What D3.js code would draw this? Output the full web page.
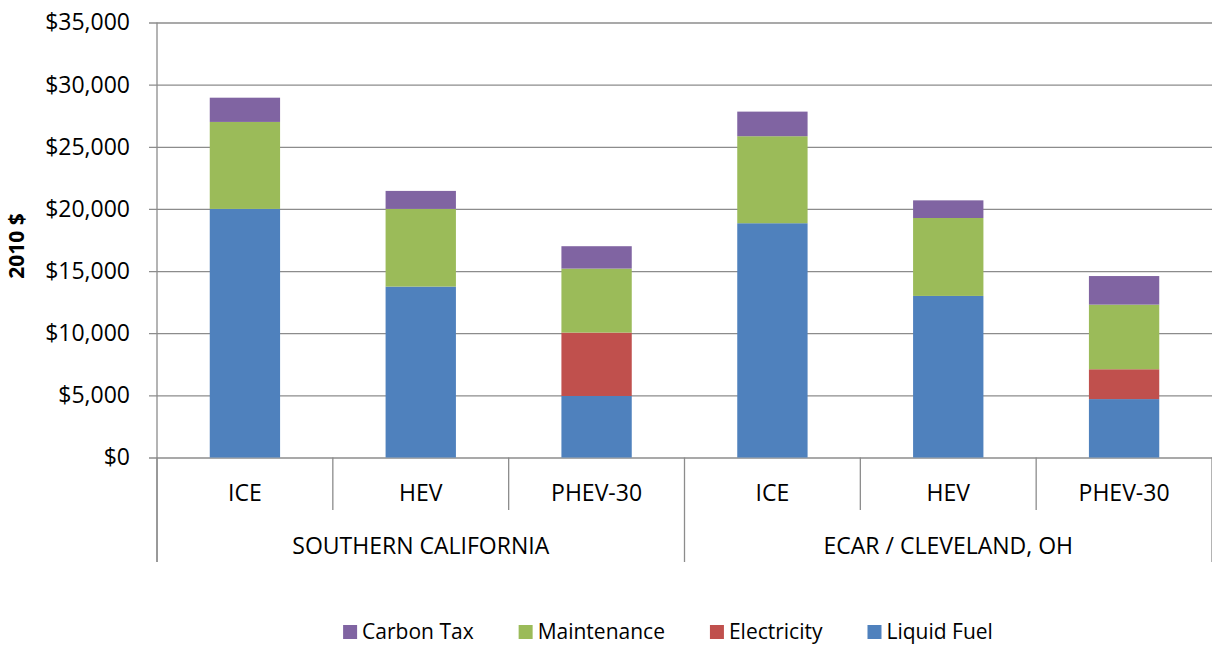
<!DOCTYPE html>
<html>
<head>
<meta charset="utf-8">
<script src="https://cdn.jsdelivr.net/npm/d3@7"></script>
<style>
  body { margin: 0; background: #fff; }
  svg { display: block; font-family: 'Open Sans', 'Noto Sans', sans-serif; }
</style>
</head>
<body>
<div id="chart"></div>
<script>
// chart data
var vehicles = ['ICE', 'HEV', 'PHEV-30', 'ICE', 'HEV', 'PHEV-30'];
var regions = ['SOUTHERN CALIFORNIA', 'ECAR / CLEVELAND, OH'];
var liquidFuel  = [20000, 13750, 4950, 18850, 13000, 4700];
var electricity = [0, 0, 5100, 0, 0, 2400];
var maintenance = [7000, 6250, 5150, 7000, 6270, 5200];
var carbonTax   = [1950, 1450, 1800, 1980, 1420, 2300];
var yTicks = [0, 5000, 10000, 15000, 20000, 25000, 30000, 35000];

var seriesNames = ['Liquid Fuel', 'Electricity', 'Maintenance', 'Carbon Tax'];
var seriesColors = {
    'Liquid Fuel': '#4f81bd',
    'Electricity': '#c0504d',
    'Maintenance': '#9bbb59',
    'Carbon Tax': '#8064a2'
};

// layout
var width = 1212, height = 646;
var plot = { left: 157, right: 1212, top: 22.5, bottom: 457.5 };
var gridColor = '#8c8c8c';

var svg = d3.select('#chart').append('svg')
    .attr('width', width)
    .attr('height', height);

// build rows for the stack
var rows = vehicles.map(function(v, i) {
    return {
        key: i,
        'Liquid Fuel': liquidFuel[i],
        'Electricity': electricity[i],
        'Maintenance': maintenance[i],
        'Carbon Tax': carbonTax[i]
    };
});
var stacked = d3.stack().keys(seriesNames)(rows);

// scales
var x = d3.scaleBand()
    .domain(d3.range(vehicles.length))
    .range([plot.left, plot.right])
    .paddingInner(0.6)
    .paddingOuter(0.3);
var step = x.step();

var y = d3.scaleLinear()
    .domain([0, 35000])
    .range([plot.bottom, plot.top]);

// y axis with gridlines
var yAxis = d3.axisLeft(y)
    .tickValues(yTicks)
    .tickFormat(d3.format('$,'))
    .tickSizeInner(-(plot.right - plot.left))
    .tickSizeOuter(0)
    .tickPadding(27);

var yg = svg.append('g')
    .attr('transform', 'translate(' + plot.left + ',0)')
    .call(yAxis);
yg.select('.domain').remove();
yg.selectAll('.tick line')
    .attr('x1', -8)
    .attr('stroke', gridColor)
    .attr('stroke-width', 1.3);
yg.selectAll('.tick text')
    .attr('font-family', "'Open Sans', sans-serif")
    .attr('font-size', 23)
    .attr('fill', '#000');

// y axis title
svg.append('text')
    .attr('transform', 'translate(17,246) rotate(-90)')
    .attr('text-anchor', 'middle')
    .attr('dy', '0.35em')
    .attr('font-weight', 'bold')
    .attr('font-size', 21)
    .text('2010 $');

// bars
svg.append('g').selectAll('g')
    .data(stacked)
    .join('g')
    .attr('fill', function(s) { return seriesColors[s.key]; })
    .selectAll('rect')
    .data(function(s) { return s; })
    .join('rect')
    .attr('x', function(d) { return x(d.data.key); })
    .attr('width', x.bandwidth())
    .attr('y', function(d) { return y(d[1]); })
    .attr('height', function(d) { return y(d[0]) - y(d[1]); });

// vertical axis line
svg.append('line')
    .attr('x1', plot.left).attr('x2', plot.left)
    .attr('y1', plot.top).attr('y2', 562)
    .attr('stroke', gridColor).attr('stroke-width', 1.3);

// category separators (short) and group separators (long)
var bounds = d3.range(vehicles.length + 1);
svg.append('g').selectAll('line')
    .data(bounds)
    .join('line')
    .attr('x1', function(i) { return plot.left + i * step; })
    .attr('x2', function(i) { return plot.left + i * step; })
    .attr('y1', plot.bottom)
    .attr('y2', function(i) { return i % 3 === 0 ? 562 : 510; })
    .attr('stroke', gridColor)
    .attr('stroke-width', 1.3);

// vehicle labels
svg.append('g').selectAll('text')
    .data(vehicles)
    .join('text')
    .attr('x', function(d, i) { return x(i) + x.bandwidth() / 2; })
    .attr('y', 493)
    .attr('dy', '0.35em')
    .attr('text-anchor', 'middle')
    .attr('font-size', 23)
    .text(function(d) { return d; });

// region labels
svg.append('g').selectAll('text')
    .data(regions)
    .join('text')
    .attr('x', function(d, i) { return plot.left + (i * 3 + 1.5) * step; })
    .attr('y', 546)
    .attr('dy', '0.35em')
    .attr('text-anchor', 'middle')
    .attr('font-size', 23)
    .text(function(d) { return d; });

// legend, reversed order like the reference
var legendItems = seriesNames.slice().reverse();
var legend = svg.append('g');
var lx = 0;
legendItems.forEach(function(name) {
    var item = legend.append('g').attr('transform', 'translate(' + lx + ',0)');
    item.append('rect')
        .attr('x', 0).attr('y', -7)
        .attr('width', 14).attr('height', 14)
        .attr('fill', seriesColors[name]);
    var t = item.append('text')
        .attr('x', 19)
        .attr('dy', '0.35em')
        .attr('font-size', 21)
        .text(name);
    lx += 19 + t.node().getComputedTextLength() + 45;
});
lx -= 45;
legend.attr('transform', 'translate(' + (668 - lx / 2) + ',632)');
</script>
</body>
</html>
